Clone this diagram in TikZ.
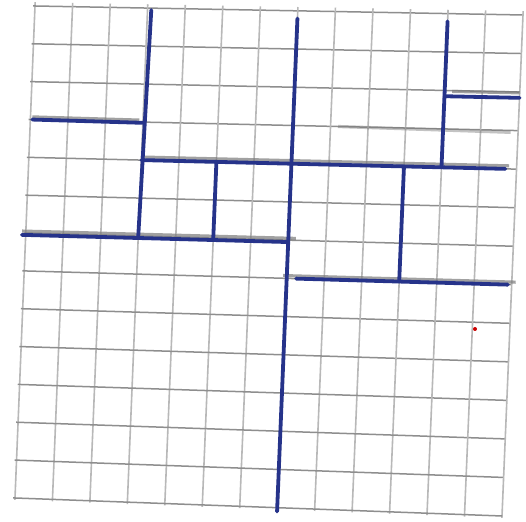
\documentclass[tikz,border=0pt]{standalone}
\usetikzlibrary{calc}
\definecolor{pen}{HTML}{26338A}
\definecolor{pencilH}{HTML}{8E8E8E}
\definecolor{pencilV}{HTML}{B8B8B8}
\definecolor{shadow}{HTML}{7A7A7A}
\newcommand{\gpt}[3]{%
  \pgfmathsetmacro\gs{(#2)/13}\pgfmathsetmacro\gt{(#3)/13}%
  \pgfmathsetmacro\gx{(1-\gs)*(1-\gt)*35+\gs*(1-\gt)*523+(1-\gs)*\gt*15+\gs*\gt*502}%
  \pgfmathsetmacro\gy{(1-\gs)*(1-\gt)*6+\gs*(1-\gt)*15+(1-\gs)*\gt*498+\gs*\gt*516}%
  \coordinate (#1) at (\gx,\gy);}
\tikzset{
  hline/.style={draw=pencilH, line width=0.75pt},
  vline/.style={draw=pencilV, line width=0.8pt},
  shade/.style={draw=shadow, line width=1.6pt, opacity=0.7},
  blueline/.style={draw=pen, line width=1.9pt, line cap=round},
}
\begin{document}
\begin{tikzpicture}[x=0.5pt,y=-0.5pt]
\fill[white] (0,0) rectangle (526,522);
\useasboundingbox (0,0) rectangle (526,522);
% grid
\foreach \i in {0,...,13}{
  \gpt{va}{\i}{-0.1}\gpt{vb}{\i}{13.05}
  \draw[vline] (va) -- (vb);
  \gpt{ha}{-0.05}{\i}\gpt{hb}{13}{\i}
  \draw[hline] (ha) -- (hb);
}
% pencil shadows
\gpt{s1a}{0.05}{2.93}\gpt{s1b}{2.9}{2.95}\draw[shade] (s1a) -- (s1b);
\gpt{s2a}{3.05}{3.92}\gpt{s2b}{12.8}{3.92}\draw[shade] (s2a) -- (s2b);
\gpt{s3a}{-0.1}{5.95}\gpt{s3b}{7.2}{5.95}\draw[shade] (s3a) -- (s3b);
\gpt{s4a}{6.9}{6.93}\gpt{s4b}{13.1}{6.93}\draw[shade] (s4a) -- (s4b);
\gpt{s5a}{11.2}{2.02}\gpt{s5b}{13}{2.02}\draw[shade] (s5a) -- (s5b);
\gpt{s6a}{8.2}{3.0}\gpt{s6b}{12.8}{3.05}\draw[shade,opacity=0.45] (s6a) -- (s6b);
% blue partition lines
\gpt{b1a}{7}{0.2}\gpt{b1b}{7}{13.1}\draw[blueline] (b1a) -- (b1b);
\gpt{b2a}{3.1}{0.05}\gpt{b2b}{3}{6}\draw[blueline] (b2a) -- (b2b);
\gpt{b3a}{0.05}{3}\gpt{b3b}{3}{3.02}\draw[blueline] (b3a) -- (b3b);
\gpt{b4a}{3}{4}\gpt{b4b}{12.7}{4}\draw[blueline] (b4a) -- (b4b);
\gpt{b5a}{5}{4}\gpt{b5b}{5}{6}\draw[blueline] (b5a) -- (b5b);
\gpt{b6a}{-0.1}{6.05}\gpt{b6b}{7}{6.05}\draw[blueline] (b6a) -- (b6b);
\gpt{b7a}{11}{0.2}\gpt{b7b}{11}{4}\draw[blueline] (b7a) -- (b7b);
\gpt{b8a}{11}{2.15}\gpt{b8b}{13}{2.15}\draw[blueline] (b8a) -- (b8b);
\gpt{b9a}{10}{4}\gpt{b9b}{10}{7}\draw[blueline] (b9a) -- (b9b);
\gpt{b10a}{7.25}{7}\gpt{b10b}{12.9}{7}\draw[blueline] (b10a) -- (b10b);
% red mark
\fill[red!80!black] (475,329) circle (2);
\end{tikzpicture}
\end{document}
